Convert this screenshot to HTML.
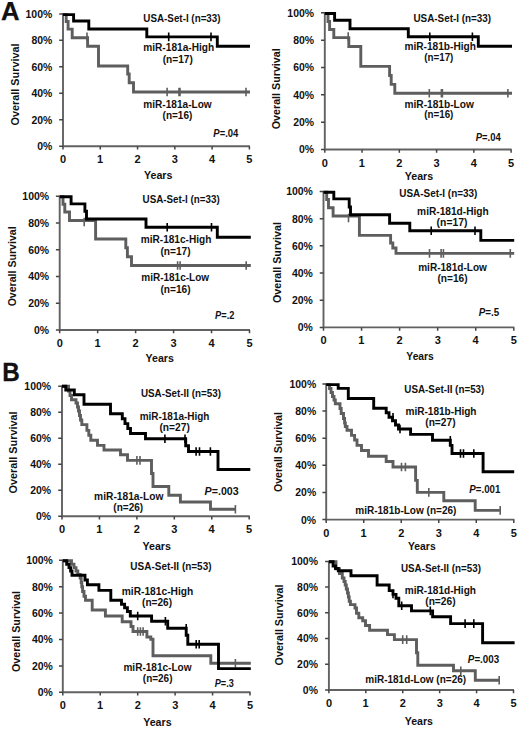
<!DOCTYPE html>
<html><head><meta charset="utf-8"><style>
html,body{margin:0;padding:0;background:#fff;width:520px;height:732px;overflow:hidden}
svg{display:block}
text{font-family:"Liberation Sans",sans-serif;font-weight:bold;fill:#111}
</style></head><body>
<svg width="520" height="732" viewBox="0 0 520 732">
<rect width="520" height="732" fill="#fff"/>
<text x="1.08" y="20.3" font-size="26" textLength="18.6" lengthAdjust="spacingAndGlyphs" stroke="#111" stroke-width="0.25">A</text><text x="2.15" y="380.9" font-size="26.3" textLength="17.52" lengthAdjust="spacingAndGlyphs" stroke="#111" stroke-width="0.3">B</text>
<path d="M63 13.3V146.2H249.9" fill="none" stroke="#626262" stroke-width="1.9"/>
<path d="M59.2 13.9H63M63 146.2V149.5M59.2 40.36H63M100.28 146.2V149.5M59.2 66.82H63M137.56 146.2V149.5M59.2 93.28H63M174.84 146.2V149.5M59.2 119.74H63M212.12 146.2V149.5M59.2 146.2H63M249.4 146.2V149.5" fill="none" stroke="#454545" stroke-width="1.5"/>
<text x="25.56" y="17.8" font-size="11" textLength="26.73" lengthAdjust="spacingAndGlyphs">100%</text>
<text x="31.41" y="44.26" font-size="11" textLength="20.92" lengthAdjust="spacingAndGlyphs">80%</text>
<text x="31.41" y="70.72" font-size="11" textLength="20.92" lengthAdjust="spacingAndGlyphs">60%</text>
<text x="31.41" y="97.18" font-size="11" textLength="20.92" lengthAdjust="spacingAndGlyphs">40%</text>
<text x="31.41" y="123.64" font-size="11" textLength="20.92" lengthAdjust="spacingAndGlyphs">20%</text>
<text x="37.16" y="150.1" font-size="11" textLength="15.1" lengthAdjust="spacingAndGlyphs">0%</text>
<text x="59.98" y="163.2" font-size="11">0</text>
<text x="97.04" y="163.2" font-size="11">1</text>
<text x="134.53" y="163.2" font-size="11">2</text>
<text x="171.87" y="163.2" font-size="11">3</text>
<text x="208.99" y="163.2" font-size="11">4</text>
<text x="246.32" y="163.2" font-size="11">5</text>
<text x="143.94" y="178.8" font-size="11.3" textLength="28.43" lengthAdjust="spacingAndGlyphs">Years</text>
<text transform="translate(19.3 125.48) rotate(-90)" font-size="11.3" textLength="82.1" lengthAdjust="spacingAndGlyphs">Overall Survival</text>
<path d="M63 14.6H66.2V21.5H68.1V29.1H72.2V37.8H87.6V46.3H98.5V66H127.7V74H129.2V82.7H133.5V92H250" fill="none" stroke="#5e5e5e" stroke-width="2.9"/>
<path d="M87 32.5V41.1M167.1 87.7V96.3M179 87.7V96.3M180 87.7V96.3M246 87.7V96.3" stroke="#5e5e5e" stroke-width="1.6" fill="none"/>
<path d="M63 14.6H73.6V21H88.8V29H146.8V36.9H217.3V46.2H250" fill="none" stroke="#000" stroke-width="2.9"/>
<path d="M168.7 32.6V41.2M211 32.6V41.2" stroke="#000" stroke-width="1.6" fill="none"/>
<text x="143.36" y="21.6" font-size="10" textLength="77.2" lengthAdjust="spacingAndGlyphs">USA-Set-I (n=33)</text>
<text x="143.24" y="51.4" font-size="10" textLength="70.93" lengthAdjust="spacingAndGlyphs">miR-181a-High</text>
<text x="162.74" y="62.7" font-size="10" textLength="30.04" lengthAdjust="spacingAndGlyphs">(n=17)</text>
<text x="143.34" y="108" font-size="10" textLength="68.3" lengthAdjust="spacingAndGlyphs">miR-181a-Low</text>
<text x="162.55" y="119.4" font-size="10" textLength="29.73" lengthAdjust="spacingAndGlyphs">(n=16)</text>
<text x="213.36" y="136.5" font-size="10" textLength="25" lengthAdjust="spacingAndGlyphs"><tspan font-style="italic">P</tspan>=.04</text>
<path d="M324.8 12.2V149.55H511.6" fill="none" stroke="#626262" stroke-width="1.9"/>
<path d="M321 12.8H324.8M324.8 149.55V152.85M321 40.15H324.8M362.06 149.55V152.85M321 67.5H324.8M399.32 149.55V152.85M321 94.85H324.8M436.58 149.55V152.85M321 122.2H324.8M473.84 149.55V152.85M321 149.55H324.8M511.1 149.55V152.85" fill="none" stroke="#454545" stroke-width="1.5"/>
<text x="287.36" y="16.7" font-size="11" textLength="26.73" lengthAdjust="spacingAndGlyphs">100%</text>
<text x="293.21" y="44.05" font-size="11" textLength="20.92" lengthAdjust="spacingAndGlyphs">80%</text>
<text x="293.21" y="71.4" font-size="11" textLength="20.92" lengthAdjust="spacingAndGlyphs">60%</text>
<text x="293.21" y="98.75" font-size="11" textLength="20.92" lengthAdjust="spacingAndGlyphs">40%</text>
<text x="293.21" y="126.1" font-size="11" textLength="20.92" lengthAdjust="spacingAndGlyphs">20%</text>
<text x="298.96" y="153.45" font-size="11" textLength="15.1" lengthAdjust="spacingAndGlyphs">0%</text>
<text x="321.78" y="166.55" font-size="11">0</text>
<text x="358.81" y="166.55" font-size="11">1</text>
<text x="396.3" y="166.55" font-size="11">2</text>
<text x="433.61" y="166.55" font-size="11">3</text>
<text x="470.7" y="166.55" font-size="11">4</text>
<text x="508.02" y="166.55" font-size="11">5</text>
<text x="404.74" y="180" font-size="11.3" textLength="28.43" lengthAdjust="spacingAndGlyphs">Years</text>
<text transform="translate(280.2 129.28) rotate(-90)" font-size="11.3" textLength="80.98" lengthAdjust="spacingAndGlyphs">Overall Survival</text>
<path d="M324.8 13.5H328V21.5H329.6V29.5H333.8V37.6H348.8V46.5H360.8V66.4H389.6V75.5H391.2V84.4H394.8V93.3H512" fill="none" stroke="#5e5e5e" stroke-width="2.9"/>
<path d="M348.2 32.2V40.8M429.3 89V97.6M441.4 89V97.6M442.4 89V97.6M507.9 89V97.6" stroke="#5e5e5e" stroke-width="1.6" fill="none"/>
<path d="M324.8 13.5H334.6V20.3H350V28.7H408.3V36.8H478.3V46.2H512" fill="none" stroke="#000" stroke-width="2.9"/>
<path d="M429.8 32.5V41.1M472.4 32.5V41.1" stroke="#000" stroke-width="1.6" fill="none"/>
<text x="413.46" y="21.9" font-size="10" textLength="77.61" lengthAdjust="spacingAndGlyphs">USA-Set-I (n=33)</text>
<text x="404.44" y="49.9" font-size="10" textLength="71.48" lengthAdjust="spacingAndGlyphs">miR-181b-High</text>
<text x="424.26" y="60.6" font-size="10" textLength="29.11" lengthAdjust="spacingAndGlyphs">(n=17)</text>
<text x="404.44" y="107.8" font-size="10" textLength="69.45" lengthAdjust="spacingAndGlyphs">miR-181b-Low</text>
<text x="424.26" y="118.4" font-size="10" textLength="29.11" lengthAdjust="spacingAndGlyphs">(n=16)</text>
<text x="475.76" y="140.9" font-size="10" textLength="24.9" lengthAdjust="spacingAndGlyphs"><tspan font-style="italic">P</tspan>=.04</text>
<path d="M59.7 195.7V330H250" fill="none" stroke="#626262" stroke-width="1.9"/>
<path d="M55.9 196.3H59.7M59.7 330V333.3M55.9 223.04H59.7M97.66 330V333.3M55.9 249.78H59.7M135.62 330V333.3M55.9 276.52H59.7M173.58 330V333.3M55.9 303.26H59.7M211.54 330V333.3M55.9 330H59.7M249.5 330V333.3" fill="none" stroke="#454545" stroke-width="1.5"/>
<text x="22.36" y="200.2" font-size="11" textLength="26.73" lengthAdjust="spacingAndGlyphs">100%</text>
<text x="28.21" y="226.94" font-size="11" textLength="20.92" lengthAdjust="spacingAndGlyphs">80%</text>
<text x="28.21" y="253.68" font-size="11" textLength="20.92" lengthAdjust="spacingAndGlyphs">60%</text>
<text x="28.21" y="280.42" font-size="11" textLength="20.92" lengthAdjust="spacingAndGlyphs">40%</text>
<text x="28.21" y="307.16" font-size="11" textLength="20.92" lengthAdjust="spacingAndGlyphs">20%</text>
<text x="33.96" y="333.9" font-size="11" textLength="15.1" lengthAdjust="spacingAndGlyphs">0%</text>
<text x="56.68" y="347" font-size="11">0</text>
<text x="94.42" y="347" font-size="11">1</text>
<text x="132.59" y="347" font-size="11">2</text>
<text x="170.61" y="347" font-size="11">3</text>
<text x="208.41" y="347" font-size="11">4</text>
<text x="246.42" y="347" font-size="11">5</text>
<text x="145.54" y="361.5" font-size="11.3" textLength="28.33" lengthAdjust="spacingAndGlyphs">Years</text>
<text transform="translate(16.3 306.37) rotate(-90)" font-size="11.3" textLength="79.97" lengthAdjust="spacingAndGlyphs">Overall Survival</text>
<path d="M59.7 196.8H63V204.3H64.8V212H69.5V220.5H95.6V239H125.8V247.8H127.4V256.8H131.5V265.5H250.8" fill="none" stroke="#5e5e5e" stroke-width="2.9"/>
<path d="M84.2 217.7V226.3M177.6 261.2V269.8M180.1 261.2V269.8M246.2 261.2V269.8" stroke="#5e5e5e" stroke-width="1.6" fill="none"/>
<path d="M59.7 196.8H71.1V203.9H84.9V211.2H86.5V219H146V227.3H217.3V237.3H250.8" fill="none" stroke="#000" stroke-width="2.9"/>
<path d="M167.2 223V231.6M211.5 223V231.6" stroke="#000" stroke-width="1.6" fill="none"/>
<text x="142.56" y="203.2" font-size="10" textLength="77.2" lengthAdjust="spacingAndGlyphs">USA-Set-I (n=33)</text>
<text x="140.74" y="243.2" font-size="10" textLength="70.63" lengthAdjust="spacingAndGlyphs">miR-181c-High</text>
<text x="160.44" y="255.3" font-size="10" textLength="30.15" lengthAdjust="spacingAndGlyphs">(n=17)</text>
<text x="141.25" y="281.3" font-size="10" textLength="67.79" lengthAdjust="spacingAndGlyphs">miR-181c-Low</text>
<text x="160.44" y="293.3" font-size="10" textLength="30.15" lengthAdjust="spacingAndGlyphs">(n=16)</text>
<text x="215.06" y="318.5" font-size="10" textLength="19.31" lengthAdjust="spacingAndGlyphs"><tspan font-style="italic">P</tspan>=.2</text>
<path d="M323.5 190.9V327.4H514.3" fill="none" stroke="#626262" stroke-width="1.9"/>
<path d="M319.7 191.5H323.5M323.5 327.4V330.7M319.7 218.68H323.5M361.56 327.4V330.7M319.7 245.86H323.5M399.62 327.4V330.7M319.7 273.04H323.5M437.68 327.4V330.7M319.7 300.22H323.5M475.74 327.4V330.7M319.7 327.4H323.5M513.8 327.4V330.7" fill="none" stroke="#454545" stroke-width="1.5"/>
<text x="286.16" y="195.4" font-size="11" textLength="26.73" lengthAdjust="spacingAndGlyphs">100%</text>
<text x="292.01" y="222.58" font-size="11" textLength="20.92" lengthAdjust="spacingAndGlyphs">80%</text>
<text x="292.01" y="249.76" font-size="11" textLength="20.92" lengthAdjust="spacingAndGlyphs">60%</text>
<text x="292.01" y="276.94" font-size="11" textLength="20.92" lengthAdjust="spacingAndGlyphs">40%</text>
<text x="292.01" y="304.12" font-size="11" textLength="20.92" lengthAdjust="spacingAndGlyphs">20%</text>
<text x="297.76" y="331.3" font-size="11" textLength="15.1" lengthAdjust="spacingAndGlyphs">0%</text>
<text x="320.48" y="344.4" font-size="11">0</text>
<text x="358.31" y="344.4" font-size="11">1</text>
<text x="396.6" y="344.4" font-size="11">2</text>
<text x="434.71" y="344.4" font-size="11">3</text>
<text x="472.6" y="344.4" font-size="11">4</text>
<text x="510.72" y="344.4" font-size="11">5</text>
<text x="406.34" y="360.4" font-size="11.3" textLength="27.51" lengthAdjust="spacingAndGlyphs">Years</text>
<text transform="translate(281.4 303.08) rotate(-90)" font-size="11.3" textLength="80.98" lengthAdjust="spacingAndGlyphs">Overall Survival</text>
<path d="M323.5 192.2H326.7V199.5H328.5V207.7H333.1V216H359.4V235.4H390.6V243H392.8V248H396V253.4H514.2" fill="none" stroke="#5e5e5e" stroke-width="2.9"/>
<path d="M348.5 213.7V222.3M429.5 249.1V257.7M441.1 249.1V257.7M443.4 249.1V257.7M510.3 249.1V257.7" stroke="#5e5e5e" stroke-width="1.6" fill="none"/>
<path d="M323.5 192.2H333.8V198.9H349.2V207H350.5V214.8H389.6V223.3H409.8V230.8H480.8V240.4H514.2" fill="none" stroke="#000" stroke-width="2.9"/>
<path d="M431.2 226.5V235.1M475 226.5V235.1" stroke="#000" stroke-width="1.6" fill="none"/>
<text x="399.25" y="197.3" font-size="10" textLength="78.12" lengthAdjust="spacingAndGlyphs">USA-Set-I (n=33)</text>
<text x="417.14" y="215.4" font-size="10" textLength="71.58" lengthAdjust="spacingAndGlyphs">miR-181d-High</text>
<text x="436.63" y="225.7" font-size="10" textLength="30.77" lengthAdjust="spacingAndGlyphs">(n=17)</text>
<text x="418.15" y="271.3" font-size="10" textLength="68.75" lengthAdjust="spacingAndGlyphs">miR-181d-Low</text>
<text x="437.44" y="282" font-size="10" textLength="30.15" lengthAdjust="spacingAndGlyphs">(n=16)</text>
<text x="478.65" y="315.7" font-size="10" textLength="20.44" lengthAdjust="spacingAndGlyphs"><tspan font-style="italic">P</tspan>=.5</text>
<path d="M62 385.6V516.3H249.7" fill="none" stroke="#626262" stroke-width="1.9"/>
<path d="M58.2 386.2H62M62 516.3V519.6M58.2 412.22H62M99.44 516.3V519.6M58.2 438.24H62M136.88 516.3V519.6M58.2 464.26H62M174.32 516.3V519.6M58.2 490.28H62M211.76 516.3V519.6M58.2 516.3H62M249.2 516.3V519.6" fill="none" stroke="#454545" stroke-width="1.5"/>
<text x="24.36" y="390.1" font-size="11" textLength="26.73" lengthAdjust="spacingAndGlyphs">100%</text>
<text x="30.21" y="416.12" font-size="11" textLength="20.92" lengthAdjust="spacingAndGlyphs">80%</text>
<text x="30.21" y="442.14" font-size="11" textLength="20.92" lengthAdjust="spacingAndGlyphs">60%</text>
<text x="30.21" y="468.16" font-size="11" textLength="20.92" lengthAdjust="spacingAndGlyphs">40%</text>
<text x="30.21" y="494.18" font-size="11" textLength="20.92" lengthAdjust="spacingAndGlyphs">20%</text>
<text x="35.96" y="520.2" font-size="11" textLength="15.1" lengthAdjust="spacingAndGlyphs">0%</text>
<text x="58.98" y="533.3" font-size="11">0</text>
<text x="96.2" y="533.3" font-size="11">1</text>
<text x="133.85" y="533.3" font-size="11">2</text>
<text x="171.35" y="533.3" font-size="11">3</text>
<text x="208.62" y="533.3" font-size="11">4</text>
<text x="246.12" y="533.3" font-size="11">5</text>
<text x="142.44" y="550.4" font-size="11.3" textLength="28.43" lengthAdjust="spacingAndGlyphs">Years</text>
<text transform="translate(17.3 493.48) rotate(-90)" font-size="11.3" textLength="81.99" lengthAdjust="spacingAndGlyphs">Overall Survival</text>
<path d="M62 386.3H68.5V391H70V395.5H71.5V399.8H76V403H77.5V407H78.5V411H79.5V415.5H80.5V420H81.8V424.6H86.9V430.4H88.8V435.2H90.8V440.2H97.5V445.4H104V450H120.5V454.8H127.5V460.4H151.5V473.5H153V486.5H168.8V495.2H180.4V502H210.5V509.2H235.4" fill="none" stroke="#5e5e5e" stroke-width="2.9"/>
<path d="M136.9 456.1V464.7M140 456.1V464.7M235.4 504.9V513.5" stroke="#5e5e5e" stroke-width="1.6" fill="none"/>
<path d="M62 386.3H65.8V390H74.3V394.7H84V404.2H110.5V413.8H122.3V418.7H125V423.6H127.8V428.5H130.5V433.5H145.5V438.8H185.7V445.8H188.5V451.5H218V469.5H250.3" fill="none" stroke="#000" stroke-width="2.9"/>
<path d="M164.9 434.5V443.1M185 434.5V443.1M196.1 447.2V455.8M199.5 447.2V455.8M210.4 447.2V455.8" stroke="#000" stroke-width="1.6" fill="none"/>
<text x="140.96" y="397.1" font-size="10" textLength="79.98" lengthAdjust="spacingAndGlyphs">USA-Set-II (n=53)</text>
<text x="139.65" y="419.5" font-size="10" textLength="69.81" lengthAdjust="spacingAndGlyphs">miR-181a-High</text>
<text x="159.44" y="431" font-size="10" textLength="30.35" lengthAdjust="spacingAndGlyphs">(n=27)</text>
<text x="94.14" y="499.5" font-size="10" textLength="69.21" lengthAdjust="spacingAndGlyphs">miR-181a-Low</text>
<text x="113.35" y="510.8" font-size="10" textLength="29.84" lengthAdjust="spacingAndGlyphs">(n=26)</text>
<text x="204.64" y="494.9" font-size="10" textLength="34.01" lengthAdjust="spacingAndGlyphs"><tspan font-style="italic">P</tspan>=.003</text>
<path d="M326.2 383.4V519.6H514.3" fill="none" stroke="#626262" stroke-width="1.9"/>
<path d="M322.4 384H326.2M326.2 519.6V522.9M322.4 411.12H326.2M363.72 519.6V522.9M322.4 438.24H326.2M401.24 519.6V522.9M322.4 465.36H326.2M438.76 519.6V522.9M322.4 492.48H326.2M476.28 519.6V522.9M322.4 519.6H326.2M513.8 519.6V522.9" fill="none" stroke="#454545" stroke-width="1.5"/>
<text x="289.46" y="387.9" font-size="11" textLength="26.73" lengthAdjust="spacingAndGlyphs">100%</text>
<text x="295.31" y="415.02" font-size="11" textLength="20.92" lengthAdjust="spacingAndGlyphs">80%</text>
<text x="295.31" y="442.14" font-size="11" textLength="20.92" lengthAdjust="spacingAndGlyphs">60%</text>
<text x="295.31" y="469.26" font-size="11" textLength="20.92" lengthAdjust="spacingAndGlyphs">40%</text>
<text x="295.31" y="496.38" font-size="11" textLength="20.92" lengthAdjust="spacingAndGlyphs">20%</text>
<text x="301.06" y="523.5" font-size="11" textLength="15.1" lengthAdjust="spacingAndGlyphs">0%</text>
<text x="323.18" y="536.6" font-size="11">0</text>
<text x="360.47" y="536.6" font-size="11">1</text>
<text x="398.22" y="536.6" font-size="11">2</text>
<text x="435.79" y="536.6" font-size="11">3</text>
<text x="473.14" y="536.6" font-size="11">4</text>
<text x="510.72" y="536.6" font-size="11">5</text>
<text x="408.04" y="550.2" font-size="11.3" textLength="27.62" lengthAdjust="spacingAndGlyphs">Years</text>
<text transform="translate(282 492.07) rotate(-90)" font-size="11.3" textLength="79.97" lengthAdjust="spacingAndGlyphs">Overall Survival</text>
<path d="M326.2 384.6H329.5V388.5H331V392.5H332.5V396.5H334V400H335.3V403.8H340V408.5H341.2V413.5H343.5V418.5H344.6V423H345.3V426.5H347V430.2H351.5V435.4H354.6V440H357V445.4H361.5V450.5H368.5V456.2H386.2V461.5H393V467H415.6V480.4H417.3V492.4H443.8V500.7H475.2V510.4H500.2" fill="none" stroke="#5e5e5e" stroke-width="2.9"/>
<path d="M401.5 462.7V471.3M405.4 462.7V471.3M428.8 488.1V496.7M500.2 506.1V514.7" stroke="#5e5e5e" stroke-width="1.6" fill="none"/>
<path d="M326.2 384.6H338.2V388.4H348.3V398.5H373.7V408.2H386.2V412.7H389V417.3H392.5V420.8H395.5V425H398.5V429H410.6V434.4H432.5V440.3H450.3V445.4H452V453.5H483.1V471.8H514.2" fill="none" stroke="#000" stroke-width="2.9"/>
<path d="M393 413V421.6M400 424.7V433.3M450.3 436V444.6M460.5 449.2V457.8M463.5 449.2V457.8M473.8 449.2V457.8" stroke="#000" stroke-width="1.6" fill="none"/>
<text x="404.36" y="393.2" font-size="10" textLength="79.98" lengthAdjust="spacingAndGlyphs">USA-Set-II (n=53)</text>
<text x="405.44" y="414.5" font-size="10" textLength="71.07" lengthAdjust="spacingAndGlyphs">miR-181b-High</text>
<text x="425.24" y="426" font-size="10" textLength="30.35" lengthAdjust="spacingAndGlyphs">(n=27)</text>
<text x="355.25" y="513.8" font-size="10" textLength="101.15" lengthAdjust="spacingAndGlyphs">miR-181b-Low (n=26)</text>
<text x="469.36" y="493.3" font-size="10" textLength="30.96" lengthAdjust="spacingAndGlyphs"><tspan font-style="italic">P</tspan>=.001</text>
<path d="M62.8 559.7V692.3H250.5" fill="none" stroke="#626262" stroke-width="1.9"/>
<path d="M59 560.3H62.8M62.8 692.3V695.6M59 586.7H62.8M100.24 692.3V695.6M59 613.1H62.8M137.68 692.3V695.6M59 639.5H62.8M175.12 692.3V695.6M59 665.9H62.8M212.56 692.3V695.6M59 692.3H62.8M250 692.3V695.6" fill="none" stroke="#454545" stroke-width="1.5"/>
<text x="26.16" y="564.2" font-size="11" textLength="26.73" lengthAdjust="spacingAndGlyphs">100%</text>
<text x="32.01" y="590.6" font-size="11" textLength="20.92" lengthAdjust="spacingAndGlyphs">80%</text>
<text x="32.01" y="617" font-size="11" textLength="20.92" lengthAdjust="spacingAndGlyphs">60%</text>
<text x="32.01" y="643.4" font-size="11" textLength="20.92" lengthAdjust="spacingAndGlyphs">40%</text>
<text x="32.01" y="669.8" font-size="11" textLength="20.92" lengthAdjust="spacingAndGlyphs">20%</text>
<text x="37.76" y="696.2" font-size="11" textLength="15.1" lengthAdjust="spacingAndGlyphs">0%</text>
<text x="59.77" y="709.3" font-size="11">0</text>
<text x="97" y="709.3" font-size="11">1</text>
<text x="134.66" y="709.3" font-size="11">2</text>
<text x="172.15" y="709.3" font-size="11">3</text>
<text x="209.43" y="709.3" font-size="11">4</text>
<text x="246.92" y="709.3" font-size="11">5</text>
<text x="143.14" y="726.2" font-size="11.3" textLength="28.43" lengthAdjust="spacingAndGlyphs">Years</text>
<text transform="translate(19.5 672.08) rotate(-90)" font-size="11.3" textLength="80.98" lengthAdjust="spacingAndGlyphs">Overall Survival</text>
<path d="M62.8 560.8H71.5V564.2H74V567.6H76V571H77.8V574.4H80.2V578H81.2V582.5H81.8V586.7H82.6V591.5H84V596.3H85.5V600.2H92.2V610H105.4V616H122.2V621.8H131V626.5H133V631.5H146.9V637H150.8V639.2H153V655.8H210.8V663.3H250.8" fill="none" stroke="#5e5e5e" stroke-width="2.9"/>
<path d="M137.7 627.2V635.8M140.4 627.2V635.8M143.1 627.2V635.8M235.4 659V667.6" stroke="#5e5e5e" stroke-width="1.6" fill="none"/>
<path d="M62.8 560.8H66.7V564.2H69V567.6H70.6V571H72V575.2H85V580H87.4V584.8H98.9V590.4H110.8V600.2H121.5V604.3H124.6V607.8H127.4V611.5H130.3V616H151.6V621.3H167.7V628.3H186.2V635.3H187.8V644.2H218.5V668.6H250.8" fill="none" stroke="#000" stroke-width="2.9"/>
<path d="M137.7 611.7V620.3M165.4 617V625.6M186.2 624V632.6M196.2 639.9V648.5M199.2 639.9V648.5" stroke="#000" stroke-width="1.6" fill="none"/>
<text x="130.35" y="570.3" font-size="10" textLength="81.2" lengthAdjust="spacingAndGlyphs">USA-Set-II (n=53)</text>
<text x="121.73" y="595" font-size="10" textLength="71.54" lengthAdjust="spacingAndGlyphs">miR-181c-High</text>
<text x="142.05" y="606.3" font-size="10" textLength="29.94" lengthAdjust="spacingAndGlyphs">(n=26)</text>
<text x="123.45" y="671.3" font-size="10" textLength="68.1" lengthAdjust="spacingAndGlyphs">miR-181c-Low</text>
<text x="142.85" y="682" font-size="10" textLength="29.63" lengthAdjust="spacingAndGlyphs">(n=26)</text>
<text x="214.77" y="686.5" font-size="10" textLength="19" lengthAdjust="spacingAndGlyphs"><tspan font-style="italic">P</tspan>=.3</text>
<path d="M328.9 560.8V690H514" fill="none" stroke="#626262" stroke-width="1.9"/>
<path d="M325.1 561.4H328.9M328.9 690V693.3M325.1 587.12H328.9M365.82 690V693.3M325.1 612.84H328.9M402.74 690V693.3M325.1 638.56H328.9M439.66 690V693.3M325.1 664.28H328.9M476.58 690V693.3M325.1 690H328.9M513.5 690V693.3" fill="none" stroke="#454545" stroke-width="1.5"/>
<text x="291.26" y="565.3" font-size="11" textLength="26.73" lengthAdjust="spacingAndGlyphs">100%</text>
<text x="297.11" y="591.02" font-size="11" textLength="20.92" lengthAdjust="spacingAndGlyphs">80%</text>
<text x="297.11" y="616.74" font-size="11" textLength="20.92" lengthAdjust="spacingAndGlyphs">60%</text>
<text x="297.11" y="642.46" font-size="11" textLength="20.92" lengthAdjust="spacingAndGlyphs">40%</text>
<text x="297.11" y="668.18" font-size="11" textLength="20.92" lengthAdjust="spacingAndGlyphs">20%</text>
<text x="302.86" y="693.9" font-size="11" textLength="15.1" lengthAdjust="spacingAndGlyphs">0%</text>
<text x="325.88" y="707" font-size="11">0</text>
<text x="362.57" y="707" font-size="11">1</text>
<text x="399.72" y="707" font-size="11">2</text>
<text x="436.69" y="707" font-size="11">3</text>
<text x="473.44" y="707" font-size="11">4</text>
<text x="510.42" y="707" font-size="11">5</text>
<text x="404.74" y="724.6" font-size="11.3" textLength="28.23" lengthAdjust="spacingAndGlyphs">Years</text>
<text transform="translate(283.4 665.38) rotate(-90)" font-size="11.3" textLength="80.88" lengthAdjust="spacingAndGlyphs">Overall Survival</text>
<path d="M328.9 561.8H336V568.8H339.4V573.5H342.3V578H344V581.5H345.2V585H346.3V589H347.5V593H348.4V597H349.2V601.2H350.4V604.6H355V608H356.5V613.3H358.8V617.7H362.7V620.8H365.5V625.5H369.6V630.3H387.5V634.6H394.4V639.6H416.5V652.8H417.8V665.2H453.5V670.8H475.3V680.2H499.2" fill="none" stroke="#5e5e5e" stroke-width="2.9"/>
<path d="M402.7 635.3V643.9M406.7 635.3V643.9M460.8 666.5V675.1M499.2 675.9V684.5" stroke="#5e5e5e" stroke-width="1.6" fill="none"/>
<path d="M328.9 561.8H333.1V566H335.5V568.5H338.3V570.8H351V575.8H377.1V585H389.2V590.6H393V594.4H396V598.3H398.8V605.8H411.5V610.9H432.6V616.8H450.6V623.6H482.6V642.8H514.6" fill="none" stroke="#000" stroke-width="2.9"/>
<path d="M393 589.7V598.3M401.7 601.5V610.1M430.3 606.6V615.2M465.1 619.3V627.9M473.8 619.3V627.9" stroke="#000" stroke-width="1.6" fill="none"/>
<text x="400.96" y="571.6" font-size="10" textLength="79.98" lengthAdjust="spacingAndGlyphs">USA-Set-II (n=53)</text>
<text x="404.74" y="594.1" font-size="10" textLength="71.28" lengthAdjust="spacingAndGlyphs">miR-181d-High</text>
<text x="425.24" y="605" font-size="10" textLength="30.35" lengthAdjust="spacingAndGlyphs">(n=26)</text>
<text x="365.25" y="682.7" font-size="10" textLength="100.85" lengthAdjust="spacingAndGlyphs">miR-181d-Low (n=26)</text>
<text x="467.85" y="663.1" font-size="10" textLength="31.36" lengthAdjust="spacingAndGlyphs"><tspan font-style="italic">P</tspan>=.003</text>
</svg>
</body></html>
